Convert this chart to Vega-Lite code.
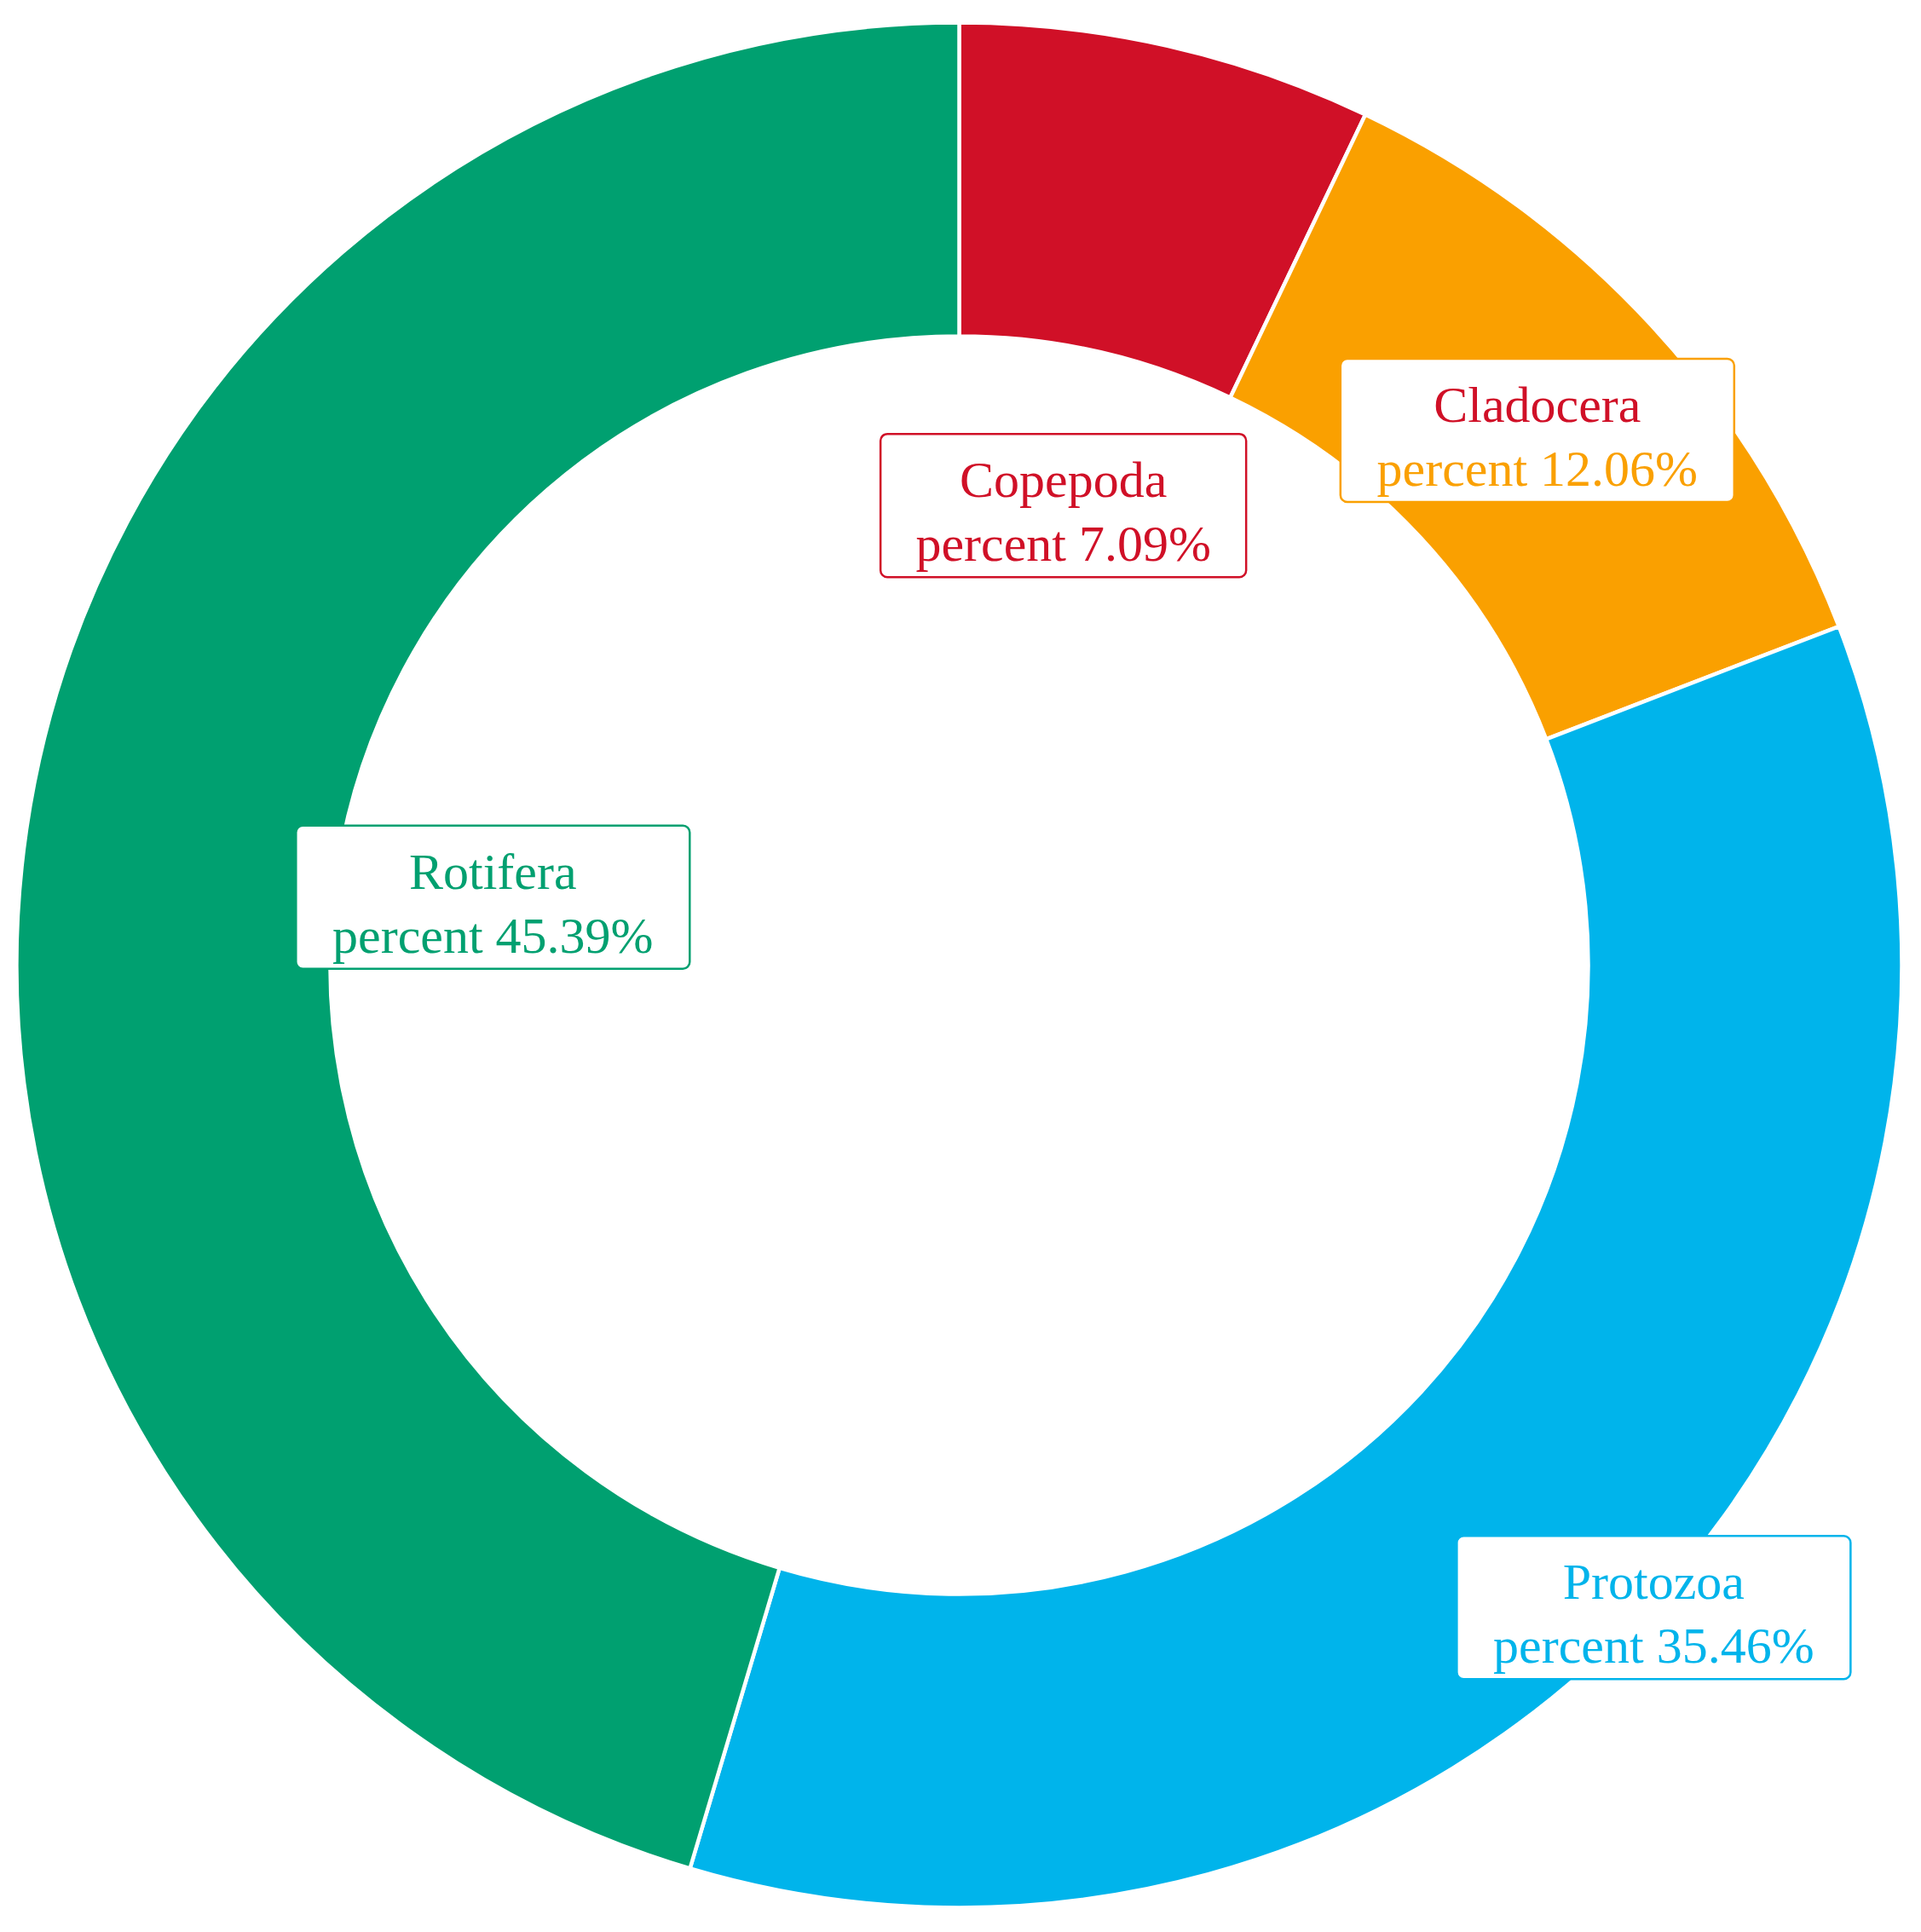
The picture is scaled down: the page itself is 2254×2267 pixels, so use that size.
{
  "$schema": "https://vega.github.io/schema/vega-lite/v6.json",
  "width": 2251,
  "height": 2265,
  "autosize": {"type": "none"},
  "padding": {"left": 0, "top": 0, "right": 3, "bottom": 2},
  "background": "white",
  "config": {"view": {"stroke": null}},
  "data": {
    "values": [
      {"taxon": "Copepoda", "percent": 7.09},
      {"taxon": "Cladocera", "percent": 12.06},
      {"taxon": "Protozoa", "percent": 35.46},
      {"taxon": "Rotifera", "percent": 45.39}
    ]
  },
  "layer": [
    {
      "mark": {"type": "arc", "innerRadius": 738, "outerRadius": 1106, "stroke": "white", "strokeWidth": 4.5},
      "encoding": {
        "theta": {"field": "percent", "type": "quantitative", "stack": true},
        "order": {"field": "percent", "type": "quantitative", "sort": "ascending"},
        "color": {
          "field": "taxon", "type": "nominal",
          "scale": {"domain": ["Copepoda", "Cladocera", "Protozoa", "Rotifera"], "range": ["#D01027", "#FAA000", "#00B4EB", "#00A070"]},
          "legend": null
        }
      }
    },
    {
      "transform": [
        {"stack": "percent", "groupby": [], "sort": [{"field": "percent", "order": "ascending"}], "as": ["p0", "p1"]},
        {"calculate": "PI * (datum.p0 + datum.p1) / 100", "as": "ang"},
        {"calculate": "datum.taxon === 'Cladocera' ? 924 : datum.taxon === 'Protozoa' ? 1110 : 553", "as": "lr"},
        {"calculate": "datum.lr * sin(datum.ang)", "as": "lx"},
        {"calculate": "datum.lr * cos(datum.ang)", "as": "ly"},
        {"calculate": "'percent ' + format(datum.percent, '.2f') + '%'", "as": "line2"},
        {"calculate": "33 * length(datum.line2)", "as": "bw"},
        {"calculate": "datum.lx - datum.bw / 2", "as": "bx1"},
        {"calculate": "datum.lx + datum.bw / 2", "as": "bx2"},
        {"calculate": "datum.ly - 84", "as": "by1"},
        {"calculate": "datum.ly + 84", "as": "by2"}
      ],
      "layer": [
        {
          "mark": {"type": "rect", "fill": "white", "strokeWidth": 2.5, "cornerRadius": 8},
          "encoding": {
            "x": {"field": "bx1", "type": "quantitative", "scale": {"domain": [-1125.5, 1125.5], "nice": false, "zero": false}, "axis": null},
            "x2": {"field": "bx2"},
            "y": {"field": "by1", "type": "quantitative", "scale": {"domain": [-1132.5, 1132.5], "nice": false, "zero": false}, "axis": null},
            "y2": {"field": "by2"},
            "stroke": {
              "field": "taxon", "type": "nominal",
              "scale": {"domain": ["Copepoda", "Cladocera", "Protozoa", "Rotifera"], "range": ["#D01027", "#FAA000", "#00B4EB", "#00A070"]},
              "legend": null
            }
          }
        },
        {
          "mark": {"type": "text", "font": "Liberation Serif", "fontSize": 60, "align": "center", "baseline": "alphabetic", "dy": -10},
          "encoding": {
            "x": {"field": "lx", "type": "quantitative"},
            "y": {"field": "ly", "type": "quantitative"},
            "text": {"field": "taxon"},
            "fill": {
              "field": "taxon", "type": "nominal",
              "scale": {"domain": ["Copepoda", "Cladocera", "Protozoa", "Rotifera"], "range": ["#D01027", "#D01027", "#00B4EB", "#00A070"]},
              "legend": null
            }
          }
        },
        {
          "mark": {"type": "text", "font": "Liberation Serif", "fontSize": 60, "align": "center", "baseline": "alphabetic", "dy": 65},
          "encoding": {
            "x": {"field": "lx", "type": "quantitative"},
            "y": {"field": "ly", "type": "quantitative"},
            "text": {"field": "line2"},
            "color": {"field": "taxon", "type": "nominal", "legend": null}
          }
        }
      ]
    }
  ]
}
